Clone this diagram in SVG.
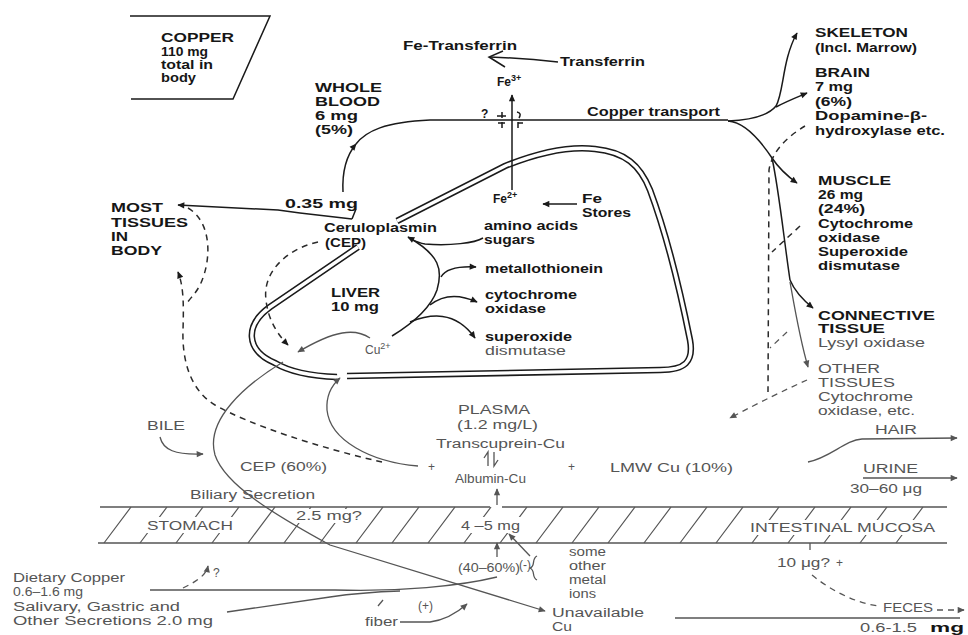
<svg xmlns="http://www.w3.org/2000/svg" width="968" height="635" viewBox="0 0 968 635">
<style>
.t{font-family:"Liberation Sans",Arial,sans-serif;font-size:12px;font-weight:bold;fill:#161616}
.g{font-family:"Liberation Sans",Arial,sans-serif;font-size:12px;font-weight:normal;fill:#555}
.ln{fill:none;stroke:#1a1a1a;stroke-width:1.5}
.lg{fill:none;stroke:#555;stroke-width:1.3}
.dk{fill:none;stroke:#2a2a2a;stroke-width:1.5;stroke-dasharray:6 5}
.dg{fill:none;stroke:#555;stroke-width:1.3;stroke-dasharray:6 5}
.dbl{fill:none;stroke:#1a1a1a;stroke-width:6.5}
.dblw{fill:none;stroke:#fff;stroke-width:3.4}
.hat{fill:none;stroke:#555;stroke-width:1.2}
</style>
<defs>
<marker id="ah" viewBox="0 0 10 10" refX="9" refY="5" markerWidth="9" markerHeight="7" markerUnits="userSpaceOnUse" orient="auto"><path d="M0,0.5 L10,5 L0,9.5 z" fill="#1a1a1a"/></marker>
<marker id="ahg" viewBox="0 0 10 10" refX="9" refY="5" markerWidth="9" markerHeight="7" markerUnits="userSpaceOnUse" orient="auto"><path d="M0,0.5 L10,5 L0,9.5 z" fill="#555"/></marker>
</defs>
<rect width="968" height="635" fill="#fff"/>

<g id="mucosa-band">
<path class="hat" d="M104,543 L131,507 M140,543 L167,507 M176,543 L203,507 M212,543 L239,507 M248,543 L275,507 M284,543 L311,507 M320,543 L347,507 M356,543 L383,507 M392,543 L419,507 M428,543 L455,507 M464,543 L491,507 M500,543 L527,507 M536,543 L563,507 M572,543 L599,507 M608,543 L635,507 M644,543 L671,507 M680,543 L707,507 M716,543 L743,507 M752,543 L779,507 M788,543 L815,507 M824,543 L851,507 M860,543 L887,507 M896,543 L923,507"/>
<rect x="144" y="517" width="93" height="16" fill="#fff"/>
<rect x="294" y="509" width="70" height="14" fill="#fff"/>
<rect x="457" y="517" width="66" height="16" fill="#fff"/>
<rect x="746" y="520" width="192" height="15" fill="#fff"/>
<path class="lg" d="M100,507 H490 M502,507 H947 M98,543 H947"/>
<text class="g" x="147" y="530" textLength="86" lengthAdjust="spacingAndGlyphs">STOMACH</text>
<text class="g" x="296" y="520" textLength="66" lengthAdjust="spacingAndGlyphs">2.5 mg?</text>
<text class="g" x="461" y="530" textLength="59" lengthAdjust="spacingAndGlyphs">4 –5 mg</text>
<text class="g" x="750" y="532" textLength="185" lengthAdjust="spacingAndGlyphs">INTESTINAL MUCOSA</text>
</g>

<g id="liver-outline">
<path class="dbl" d="M397,221 L505,166 C540,152 570,146 595,149 C625,152 640,165 650,190 C665,230 680,290 690,340 C694,362 685,370 660,370 L347,376"/>
<path class="dblw" d="M397,221 L505,166 C540,152 570,146 595,149 C625,152 640,165 650,190 C665,230 680,290 690,340 C694,362 685,370 660,370 L347,376"/>
<path class="dbl" d="M358,247 L270,307 C245,325 245,350 275,363 C290,372 310,376 337,377"/>
<path class="dblw" d="M358,247 L270,307 C245,325 245,350 275,363 C290,372 310,376 337,377"/>
</g>

<g id="connectors">
<path class="ln" d="M130,16 L270,16 L233,99 L131,99" stroke-width="1.7"/>
<path class="ln" d="M343,192 C342,172 346,156 356,144" marker-end="url(#ah)"/>
<path class="ln" d="M356,144 C366,131 385,122 430,120 L728,120"/>
<path class="ln" d="M352,219 L300,213 L278,210 L178,205" marker-end="url(#ah)"/>
<path class="ln" d="M356,209 L352,219"/>
<path class="ln" stroke-width="1.2" d="M502,112 V118 M497,116 H506 M502,122 V128 M498,123 H505 M517,112 Q522,113 519,118 M518,122 V128 M518,123 H523"/>
<path class="ln" d="M512,190 L512,95" marker-end="url(#ah)"/>
<path class="ln" d="M558,62 C540,60 515,58 490,57"/>
<path class="ln" d="M503,51 L489,57 L505,67"/>
<path class="ln" d="M577,204 L543,204" marker-end="url(#ah)"/>
<path class="ln" d="M728,121 C750,120 768,116 776,106 C784,92 782,60 797,33" marker-end="url(#ah)"/>
<path class="ln" d="M776,107 C785,102 795,98 807,93" marker-end="url(#ah)"/>
<path class="ln" d="M728,121 C745,122 760,140 772,158 C780,170 790,178 797,183" marker-end="url(#ah)"/>
<path class="ln" d="M772,158 C779,190 784,240 790,280"/>
<path class="ln" d="M790,280 C795,292 803,300 813,308" marker-end="url(#ah)"/>
<path class="lg" d="M790,282 C795,310 800,340 808,367" marker-end="url(#ahg)"/>
<path class="dk" d="M805,126 C790,135 772,150 769,170 L768,392"/>
<path class="dk" d="M800,226 L772,252"/>
<path class="dg" d="M787,332 L770,348"/>
<path class="dg" d="M807,380 C785,390 760,402 730,418" marker-end="url(#ahg)"/>
<path class="ln" d="M392,336 C410,325 430,310 437,290 C443,270 440,255 408,237" marker-end="url(#ah)"/>
<path class="ln" d="M483,238 C475,243 450,246 425,244 C418,243 413,240 409,238"/>
<path class="ln" d="M441,277 C445,270 455,266 476,267" marker-end="url(#ah)"/>
<path class="ln" d="M430,305 C440,297 455,292 477,302" marker-end="url(#ah)"/>
<path class="ln" d="M410,322 C430,314 455,310 475,338" marker-end="url(#ah)"/>
<path class="lg" d="M370,338 C355,328 335,330 298,352" marker-end="url(#ahg)"/>
<path class="dk" d="M318,242 C290,248 262,270 266,300 C268,320 278,335 288,345" marker-end="url(#ah)"/>
<path class="dk" d="M188,208 C212,222 212,260 200,285 C195,295 188,300 186,305"/>
<path class="dk" d="M382,462 C320,448 250,425 215,405 C190,390 182,360 183,330 C184,300 183,285 178,272" marker-end="url(#ah)"/>
<path class="lg" d="M418,466 C370,462 330,440 327,410 C326,395 332,385 340,378" marker-end="url(#ahg)"/>
<path class="lg" d="M283,362 C245,385 205,420 215,455 C225,485 275,515 330,545 L545,611" marker-end="url(#ahg)"/>
<path class="lg" d="M160,437 C163,450 175,455 203,454" marker-end="url(#ahg)"/>
<path class="lg" d="M150,590 L335,590 C400,592 460,586 497,577"/>
<path class="lg" d="M227,612 L330,597 C350,594 370,592 400,591"/>
<path class="lg" d="M497,557 L497,543" marker-end="url(#ahg)"/>
<path class="lg" d="M497,505 L497,489" marker-end="url(#ahg)"/>
<path class="dg" d="M183,588 C195,582 206,576 208,566" marker-end="url(#ahg)"/>
<path class="lg" d="M400,622 L430,622 C445,620 458,612 467,604" marker-end="url(#ahg)"/>
<path class="lg" d="M378,606 L383,600"/>
<path class="lg" d="M530,556 L509,534" marker-end="url(#ahg)"/>
<path class="lg" d="M537,556 C531,559 536,566 530,568 C536,571 531,577 537,580"/>
<path class="lg" d="M488,466 L488,452 L484,458 M494,452 L494,466 L498,460"/>
<path class="lg" d="M808,462 C830,458 845,440 862,439 L957,438" marker-end="url(#ahg)"/>
<path class="lg" d="M863,478 L957,478" marker-end="url(#ahg)"/>
<path class="lg" d="M810,543 L810,550"/>
<path class="dg" d="M812,575 C830,590 855,603 879,606"/>
<path class="dg" d="M937,610 L964,610" marker-end="url(#ahg)"/>
<path class="lg" d="M675,618 L960,618"/>
</g>

<g id="copper-total">
<text class="t" x="161" y="42" textLength="73" lengthAdjust="spacingAndGlyphs">COPPER</text>
<text class="t" x="161" y="56" textLength="47" lengthAdjust="spacingAndGlyphs">110 mg</text>
<text class="t" x="161" y="69" textLength="52" lengthAdjust="spacingAndGlyphs">total in</text>
<text class="t" x="161" y="82" textLength="35" lengthAdjust="spacingAndGlyphs">body</text>
</g>
<g id="whole-blood">
<text class="t" x="315" y="92" textLength="67" lengthAdjust="spacingAndGlyphs">WHOLE</text>
<text class="t" x="315" y="106" textLength="65" lengthAdjust="spacingAndGlyphs">BLOOD</text>
<text class="t" x="315" y="120" textLength="43" lengthAdjust="spacingAndGlyphs">6 mg</text>
<text class="t" x="315" y="134" textLength="38" lengthAdjust="spacingAndGlyphs">(5%)</text>
</g>
<g id="fe-transferrin">
<text class="t" x="403" y="50" textLength="114" lengthAdjust="spacingAndGlyphs">Fe-Transferrin</text>
<text class="t" x="560" y="66" textLength="85" lengthAdjust="spacingAndGlyphs">Transferrin</text>
<text class="t" x="497" y="86" font-size="13">Fe<tspan font-size="9" dy="-5">3+</tspan></text>
<text class="t" x="481" y="118" font-size="13">?</text>
<text class="t" x="587" y="116" textLength="133" lengthAdjust="spacingAndGlyphs">Copper transport</text>
</g>
<g id="skeleton">
<text class="t" x="815" y="37" textLength="93" lengthAdjust="spacingAndGlyphs">SKELETON</text>
<text class="t" x="815" y="52" textLength="102" lengthAdjust="spacingAndGlyphs">(Incl. Marrow)</text>
</g>
<g id="brain">
<text class="t" x="815" y="77" textLength="55" lengthAdjust="spacingAndGlyphs">BRAIN</text>
<text class="t" x="815" y="91" textLength="38" lengthAdjust="spacingAndGlyphs">7 mg</text>
<text class="t" x="815" y="106" textLength="37" lengthAdjust="spacingAndGlyphs">(6%)</text>
<text class="t" x="815" y="120" textLength="112" lengthAdjust="spacingAndGlyphs">Dopamine-β-</text>
<text class="t" x="815" y="135" textLength="130" lengthAdjust="spacingAndGlyphs">hydroxylase etc.</text>
</g>
<g id="muscle">
<text class="t" x="818" y="185" textLength="73" lengthAdjust="spacingAndGlyphs">MUSCLE</text>
<text class="t" x="818" y="199" textLength="45" lengthAdjust="spacingAndGlyphs">26 mg</text>
<text class="t" x="818" y="213" textLength="47" lengthAdjust="spacingAndGlyphs">(24%)</text>
<text class="t" x="818" y="228" textLength="95" lengthAdjust="spacingAndGlyphs">Cytochrome</text>
<text class="t" x="818" y="242" textLength="62" lengthAdjust="spacingAndGlyphs">oxidase</text>
<text class="t" x="818" y="256" textLength="90" lengthAdjust="spacingAndGlyphs">Superoxide</text>
<text class="t" x="818" y="270" textLength="82" lengthAdjust="spacingAndGlyphs">dismutase</text>
</g>
<g id="connective-tissue">
<text class="t" x="818" y="320" textLength="117" lengthAdjust="spacingAndGlyphs">CONNECTIVE</text>
<text class="t" x="818" y="333" textLength="67" lengthAdjust="spacingAndGlyphs">TISSUE</text>
<text class="g" x="818" y="347" textLength="107" lengthAdjust="spacingAndGlyphs">Lysyl oxidase</text>
</g>
<g id="other-tissues">
<text class="g" x="818" y="373" textLength="62" lengthAdjust="spacingAndGlyphs">OTHER</text>
<text class="g" x="818" y="387" textLength="77" lengthAdjust="spacingAndGlyphs">TISSUES</text>
<text class="g" x="818" y="401" textLength="95" lengthAdjust="spacingAndGlyphs">Cytochrome</text>
<text class="g" x="818" y="415" textLength="97" lengthAdjust="spacingAndGlyphs">oxidase, etc.</text>
</g>
<g id="most-tissues">
<text class="t" x="111" y="212" textLength="52" lengthAdjust="spacingAndGlyphs">MOST</text>
<text class="t" x="111" y="227" textLength="77" lengthAdjust="spacingAndGlyphs">TISSUES</text>
<text class="t" x="111" y="241" textLength="17" lengthAdjust="spacingAndGlyphs">IN</text>
<text class="t" x="111" y="255" textLength="51" lengthAdjust="spacingAndGlyphs">BODY</text>
</g>
<g id="liver">
<text class="t" x="285" y="208" textLength="73" lengthAdjust="spacingAndGlyphs">0.35 mg</text>
<text class="t" x="324" y="232" textLength="113" lengthAdjust="spacingAndGlyphs">Ceruloplasmin</text>
<text class="t" x="325" y="247" textLength="41" lengthAdjust="spacingAndGlyphs">(CEP)</text>
<text class="t" x="331" y="297" textLength="49" lengthAdjust="spacingAndGlyphs">LIVER</text>
<text class="t" x="331" y="311" textLength="48" lengthAdjust="spacingAndGlyphs">10 mg</text>
<text class="t" x="493" y="203" font-size="13">Fe<tspan font-size="9" dy="-5">2+</tspan></text>
<text class="t" x="582" y="203" textLength="20" lengthAdjust="spacingAndGlyphs">Fe</text>
<text class="t" x="582" y="217" textLength="49" lengthAdjust="spacingAndGlyphs">Stores</text>
<text class="t" x="484" y="230" textLength="94" lengthAdjust="spacingAndGlyphs">amino acids</text>
<text class="t" x="484" y="244" textLength="51" lengthAdjust="spacingAndGlyphs">sugars</text>
<text class="t" x="485" y="273" textLength="118" lengthAdjust="spacingAndGlyphs">metallothionein</text>
<text class="t" x="485" y="299" textLength="92" lengthAdjust="spacingAndGlyphs">cytochrome</text>
<text class="t" x="485" y="313" textLength="61" lengthAdjust="spacingAndGlyphs">oxidase</text>
<text class="t" x="485" y="341" textLength="87" lengthAdjust="spacingAndGlyphs">superoxide</text>
<text class="g" x="485" y="355" textLength="81" lengthAdjust="spacingAndGlyphs">dismutase</text>
<text class="g" x="365" y="354" font-size="13">Cu<tspan font-size="9" dy="-5">2+</tspan></text>
</g>
<g id="plasma">
<text class="g" x="458" y="414" textLength="72" lengthAdjust="spacingAndGlyphs">PLASMA</text>
<text class="g" x="457" y="429" textLength="81" lengthAdjust="spacingAndGlyphs">(1.2 mg/L)</text>
<text class="g" x="436" y="448" textLength="129" lengthAdjust="spacingAndGlyphs">Transcuprein-Cu</text>
<text class="g" x="455" y="483" textLength="71" lengthAdjust="spacingAndGlyphs">Albumin-Cu</text>
<text class="g" x="428" y="471">+</text>
<text class="g" x="568" y="471">+</text>
<text class="g" x="610" y="472" textLength="123" lengthAdjust="spacingAndGlyphs">LMW Cu (10%)</text>
<text class="g" x="240" y="471" textLength="87" lengthAdjust="spacingAndGlyphs">CEP (60%)</text>
</g>
<g id="bile">
<text class="g" x="147" y="430" textLength="38" lengthAdjust="spacingAndGlyphs">BILE</text>
<text class="g" x="190" y="499" textLength="125" lengthAdjust="spacingAndGlyphs">Biliary Secretion</text>
</g>
<g id="dietary">
<text class="g" x="13" y="582" textLength="112" lengthAdjust="spacingAndGlyphs">Dietary Copper</text>
<text class="g" x="13" y="596" textLength="70" lengthAdjust="spacingAndGlyphs">0.6–1.6 mg</text>
<text class="g" x="13" y="611" textLength="167" lengthAdjust="spacingAndGlyphs">Salivary, Gastric and</text>
<text class="g" x="13" y="625" textLength="200" lengthAdjust="spacingAndGlyphs">Other Secretions 2.0 mg</text>
<text class="g" x="213" y="577">?</text>
</g>
<g id="absorption">
<text class="g" x="458" y="572" textLength="62" lengthAdjust="spacingAndGlyphs">(40–60%)</text>
<text class="g" x="519" y="569">(-)</text>
<text class="g" x="569" y="556" textLength="37" lengthAdjust="spacingAndGlyphs">some</text>
<text class="g" x="569" y="570" textLength="37" lengthAdjust="spacingAndGlyphs">other</text>
<text class="g" x="569" y="584" textLength="37" lengthAdjust="spacingAndGlyphs">metal</text>
<text class="g" x="569" y="598" textLength="27" lengthAdjust="spacingAndGlyphs">ions</text>
<text class="g" x="365" y="626" textLength="33" lengthAdjust="spacingAndGlyphs">fiber</text>
<text class="g" x="418" y="610">(+)</text>
<text class="g" x="552" y="617" textLength="92" lengthAdjust="spacingAndGlyphs">Unavailable</text>
<text class="g" x="552" y="631" textLength="20" lengthAdjust="spacingAndGlyphs">Cu</text>
</g>
<g id="excretion">
<text class="g" x="875" y="434" textLength="42" lengthAdjust="spacingAndGlyphs">HAIR</text>
<text class="g" x="863" y="473" textLength="55" lengthAdjust="spacingAndGlyphs">URINE</text>
<text class="g" x="850" y="493" textLength="72" lengthAdjust="spacingAndGlyphs">30–60 μg</text>
<text class="g" x="777" y="567" textLength="53" lengthAdjust="spacingAndGlyphs">10 μg?</text>
<text class="g" x="836" y="567" font-size="9">+</text>
<text class="g" x="883" y="612" textLength="50" lengthAdjust="spacingAndGlyphs">FECES</text>
<text class="g" x="860" y="632" textLength="57" lengthAdjust="spacingAndGlyphs">0.6-1.5</text>
<text class="t" x="930" y="632" font-size="13" textLength="34" lengthAdjust="spacingAndGlyphs">mg</text>
</g>
</svg>
